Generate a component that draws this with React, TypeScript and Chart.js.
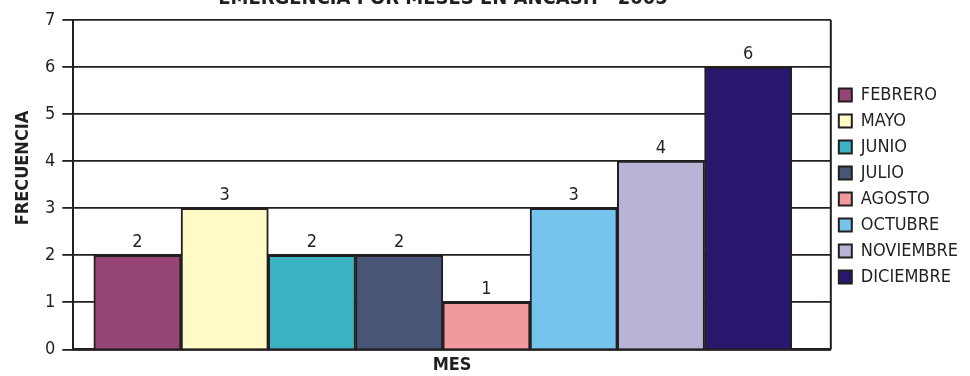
import React, { useEffect, useRef } from "react";
import { Chart, registerables } from "chart.js";

Chart.register(...registerables);

const TITLE = "EMERGENCIA POR MESES EN ANCASH - 2005";
const Y_TITLE = "FRECUENCIA";
const X_TITLE = "MES";
const MONTHS = ["FEBRERO", "MAYO", "JUNIO", "JULIO", "AGOSTO", "OCTUBRE", "NOVIEMBRE", "DICIEMBRE"];
const VALUES = [2, 3, 2, 2, 1, 3, 4, 6];
const COLORS = ["#974576", "#FFFAC6", "#3BB2C3", "#485576", "#F09A9E", "#74C4EE", "#B9B3D6", "#28176C"];
const Y_MIN = 0;
const Y_MAX = 7;
const Y_STEP = 1;

const FONT = "'Liberation Sans Narrow', 'DejaVu Sans Condensed', 'Arial Narrow', sans-serif";
const INK = "#231f20";

const framePlugin = {
  id: "frame",
  beforeDatasetsDraw(chart: any) {
    const { ctx, chartArea } = chart;
    ctx.save();
    ctx.strokeStyle = INK;
    ctx.lineWidth = 2;
    ctx.beginPath();
    ctx.moveTo(chartArea.right, chartArea.top);
    ctx.lineTo(chartArea.right, chartArea.bottom);
    ctx.stroke();
    ctx.restore();
  },
};

const legendShiftPlugin = {
  id: "legendShift",
  afterLayout(chart: any) {
    const lg = chart.legend;
    if (lg) {
      lg.top -= 12;
      lg.bottom -= 12;
    }
  },
};

const valueLabelPlugin = {
  id: "valueLabels",
  afterDatasetsDraw(chart: any) {
    const { ctx } = chart;
    ctx.save();
    ctx.font = `18px ${FONT}`;
    ctx.fillStyle = INK;
    ctx.textAlign = "center";
    ctx.textBaseline = "bottom";
    chart.data.datasets.forEach((ds: any, i: number) => {
      const meta = chart.getDatasetMeta(i);
      meta.data.forEach((bar: any, j: number) => {
        const v = ds.data[j].y;
        ctx.fillText(String(v), bar.x, bar.y - 4);
      });
    });
    ctx.restore();
  },
};

const textPlugin = {
  id: "texts",
  afterDraw(chart: any) {
    const { ctx } = chart;
    ctx.save();
    ctx.fillStyle = INK;
    ctx.textAlign = "center";
    ctx.font = `bold 20px ${FONT}`;
    ctx.textBaseline = "alphabetic";
    ctx.fillText(TITLE, 443, 4);
    ctx.font = `bold 18px ${FONT}`;
    ctx.textBaseline = "middle";
    ctx.translate(23, 168);
    ctx.rotate(-Math.PI / 2);
    ctx.fillText(Y_TITLE, 0, 0);
    ctx.restore();
  },
};

export default function App() {
  const ref = useRef<HTMLCanvasElement | null>(null);

  useEffect(() => {
    document.body.style.margin = "0";
    const canvas = ref.current;
    if (!canvas) return;
    const datasets = MONTHS.map((m, i) => ({
      label: m,
      data: [{ x: i, y: VALUES[i] }],
      backgroundColor: COLORS[i],
      borderColor: INK,
      borderWidth: 2,
      grouped: false,
      categoryPercentage: 1,
      barPercentage: 1,
    }));
    const chart = new Chart(canvas, {
      type: "bar",
      data: { datasets },
      options: {
        responsive: false,
        animation: false,
        devicePixelRatio: 1,
        layout: { padding: { top: 20, left: 38, right: 2, bottom: 0 } },
        plugins: {
          legend: {
            position: "right",
            labels: {
              boxWidth: 13,
              boxHeight: 13,
              padding: 8,
              color: INK,
              font: { family: FONT, size: 18 },
            },
          },
          title: { display: false },
          tooltip: { enabled: false },
        },
        scales: {
          x: {
            type: "linear",
            offset: false,
            min: -0.735,
            max: 7.947,
            afterBuildTicks: (scale: any) => {
              scale.ticks = MONTHS.map((_, i) => ({ value: i }));
            },
            ticks: { display: false },
            grid: { display: false, drawTicks: false },
            border: { color: INK, width: 2.5 },
            title: {
              display: true,
              text: X_TITLE,
              color: INK,
              font: { family: FONT, size: 18, weight: "bold" },
              padding: { top: 5, bottom: 0 },
            },
          },
          y: {
            min: Y_MIN,
            max: Y_MAX,
            ticks: {
              stepSize: Y_STEP,
              color: INK,
              padding: 7,
              font: { family: FONT, size: 18 },
            },
            grid: { color: INK, lineWidth: 1.8, tickLength: 11 },
            border: { color: INK, width: 2 },
            title: { display: false },
          },
        },
      },
      plugins: [framePlugin, legendShiftPlugin, valueLabelPlugin, textPlugin],
    } as any);
    return () => chart.destroy();
  }, []);

  return (
    <div style={{ width: 970, height: 376, overflow: "hidden", background: "#fff" }}>
      <canvas ref={ref} width={970} height={376} style={{ display: "block" }} />
    </div>
  );
}
